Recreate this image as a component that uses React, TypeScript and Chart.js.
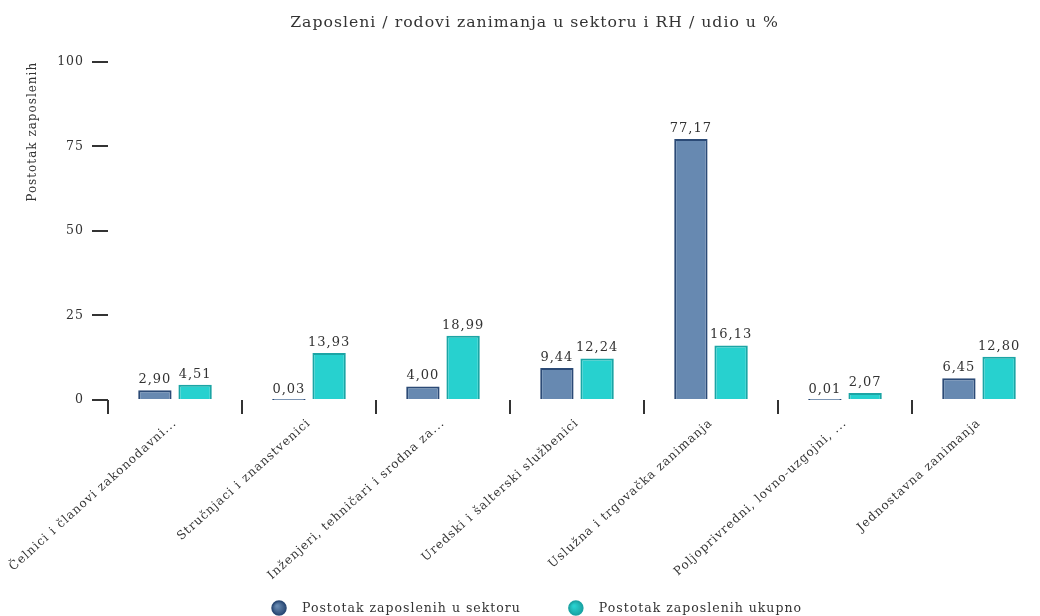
import React, { useEffect, useRef } from "react";
import { Chart, registerables } from "chart.js";

Chart.register(...registerables);

const categories = [
  "Čelnici i članovi zakonodavni...",
  "Stručnjaci i znanstvenici",
  "Inženjeri, tehničari i srodna za...",
  "Uredski i šalterski službenici",
  "Uslužna i trgovačka zanimanja",
  "Poljoprivredni, lovno-uzgojni, ...",
  "Jednostavna zanimanja",
];
const sektorValues = [2.9, 0.03, 4.0, 9.44, 77.17, 0.01, 6.45];
const ukupnoValues = [4.51, 13.93, 18.99, 12.24, 16.13, 2.07, 12.8];
const seriesNames = ["Postotak zaposlenih u sektoru", "Postotak zaposlenih ukupno"];
const yTicks = [0, 25, 50, 75, 100];

const FONT = "'DejaVu Serif', serif";
const TEXT = "#333333";
const FILLS = ["#6789b1", "#27d1cf"];
const BORDERS = ["#2b4a76", "#1ba5a5"];

const letterSpacing = {
  id: "letterSpacing",
  beforeInit(chart: any) {
    (chart.ctx as any).letterSpacing = "1px";
  },
  beforeUpdate(chart: any) {
    (chart.ctx as any).letterSpacing = "1px";
  },
  beforeDraw(chart: any) {
    (chart.ctx as any).letterSpacing = "1px";
  },
};

const valueLabels = {
  id: "valueLabels",
  afterDatasetsDraw(chart: any) {
    const ctx = chart.ctx;
    ctx.save();
    ctx.font = `13px ${FONT}`;
    ctx.fillStyle = TEXT;
    ctx.textAlign = "center";
    ctx.textBaseline = "bottom";
    chart.data.datasets.forEach((ds: any, i: number) => {
      const meta = chart.getDatasetMeta(i);
      meta.data.forEach((el: any, j: number) => {
        const v = ds.data[j] as number;
        ctx.fillText(v.toFixed(2).replace(".", ","), el.x, el.y - 4);
      });
    });
    ctx.restore();
  },
};

const customLegend = {
  id: "customLegend",
  afterDraw(chart: any) {
    const ctx = chart.ctx;
    ctx.save();
    ctx.font = `12.5px ${FONT}`;
    ctx.textBaseline = "middle";
    ctx.textAlign = "left";
    const r = 7;
    const gapCircleText = 16;
    const gapItems = 48;
    const items = chart.data.datasets.map((ds: any, i: number) => ({
      text: ds.label as string,
      w: 2 * r + gapCircleText + ctx.measureText(ds.label).width,
      i,
    }));
    const total = items.reduce((s: number, it: any) => s + it.w, 0) + gapItems * (items.length - 1);
    let x = chart.width / 2 + 2 - total / 2;
    const y = 608;
    items.forEach((it: any) => {
      const cx = x + r;
      const g = ctx.createRadialGradient(cx - 2, y - 2, 1, cx, y, r);
      g.addColorStop(0, FILLS[it.i]);
      g.addColorStop(1, BORDERS[it.i]);
      ctx.beginPath();
      ctx.arc(cx, y, r, 0, Math.PI * 2);
      ctx.fillStyle = g;
      ctx.fill();
      ctx.lineWidth = 1.5;
      ctx.strokeStyle = BORDERS[it.i];
      ctx.stroke();
      ctx.fillStyle = TEXT;
      ctx.fillText(it.text, x + 2 * r + gapCircleText, y + 1);
      x += it.w + gapItems;
    });
    ctx.restore();
  },
};

export default function App() {
  const ref = useRef<HTMLCanvasElement | null>(null);
  useEffect(() => {
    document.body.style.margin = "0";
    document.body.style.overflow = "hidden";
    const chart = new Chart(ref.current as HTMLCanvasElement, {
      type: "bar",
      data: {
        labels: categories,
        datasets: [
          {
            label: seriesNames[0],
            data: sektorValues,
            backgroundColor: FILLS[0],
            borderColor: BORDERS[0],
            borderWidth: 2,
            categoryPercentage: 0.6,
            barPercentage: 0.83,
          },
          {
            label: seriesNames[1],
            data: ukupnoValues,
            backgroundColor: FILLS[1],
            borderColor: BORDERS[1],
            borderWidth: 2,
            categoryPercentage: 0.6,
            barPercentage: 0.83,
          },
        ],
      },
      options: {
        responsive: false,
        animation: false,
        layout: { padding: { top: 6, right: 24, bottom: 0, left: 23 } },
        plugins: {
          title: {
            display: true,
            text: "Zaposleni / rodovi zanimanja u sektoru i RH / udio u %",
            color: TEXT,
            font: { family: FONT, size: 15.7, weight: "normal" },
            padding: { top: 8, bottom: 29 },
          },
          legend: { display: false },
          tooltip: { enabled: false },
        },
        scales: {
          x: {
            afterFit: (axis: any) => {
              axis.height = 216;
              axis.paddingLeft = 0;
              axis.paddingRight = 0;
            },
            grid: {
              display: true,
              drawOnChartArea: false,
              drawTicks: true,
              tickLength: 14,
              color: "#333333",
              lineWidth: 2,
              offset: true,
            },
            border: { display: false },
            ticks: {
              color: TEXT,
              font: { family: FONT, size: 12 },
              maxRotation: 42,
              minRotation: 42,
              padding: 2,
            },
          },
          y: {
            min: 0,
            max: 100,
            afterFit: (axis: any) => {
              axis.width = 85;
            },
            afterBuildTicks: (axis: any) => {
              axis.ticks = yTicks.map((v) => ({ value: v }));
            },
            grid: {
              display: true,
              drawOnChartArea: false,
              drawTicks: true,
              tickLength: 16,
              color: "#333333",
              lineWidth: 2,
            },
            border: { display: false },
            ticks: {
              color: TEXT,
              font: { family: FONT, size: 12.5 },
              padding: 8,
            },
            title: {
              display: true,
              text: "Postotak zaposlenih",
              align: "end",
              color: TEXT,
              font: { family: FONT, size: 12 },
              padding: { top: 3, bottom: 0 },
            },
          },
        },
      },
      plugins: [letterSpacing, valueLabels, customLegend],
    } as any);
    return () => chart.destroy();
  }, []);
  return <canvas ref={ref} width={1070} height={616} style={{ display: "block" }} />;
}
